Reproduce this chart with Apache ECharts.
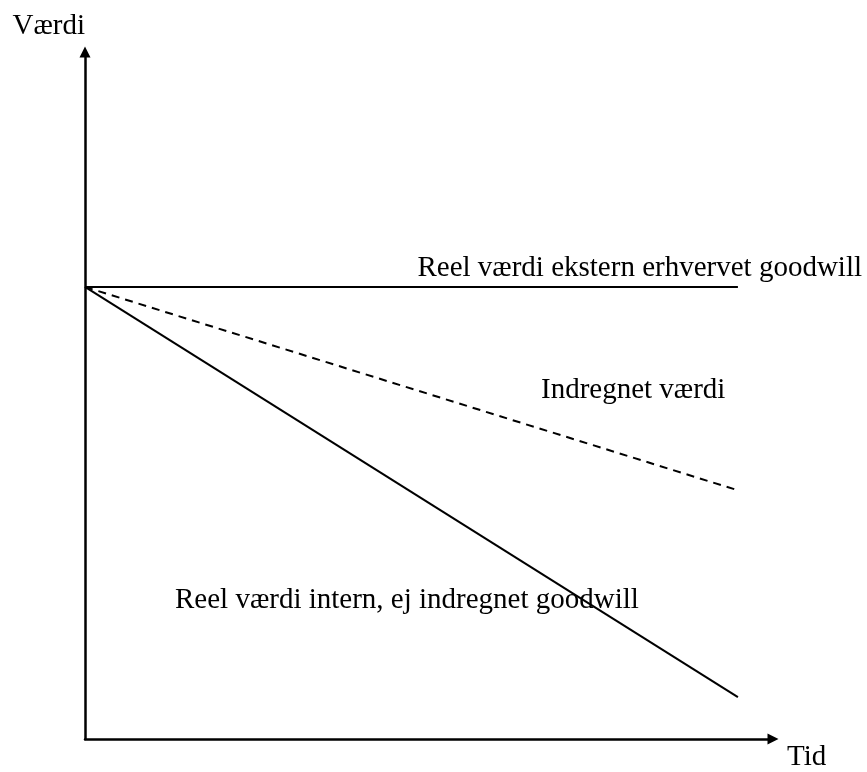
<!DOCTYPE html>
<html>
<head>
<meta charset="utf-8">
<script src="https://cdn.jsdelivr.net/npm/echarts@6/dist/echarts.min.js"></script>
<style>
  html, body { margin: 0; padding: 0; background: #fff; }
  #chart { width: 867px; height: 772px; }
</style>
</head>
<body>
<div id="chart"></div>
<script>
// tid (x) og værdi (y) for de tre linjer
const timePoints = [0, 94.9];
const externalValue = [65.8, 65.8];
const recognisedValue = [65.8, 36.2];
const internalValue = [65.8, 6.1];

const labels = {
  external: 'Reel værdi ekstern erhvervet goodwill',
  recognised: 'Indregnet værdi',
  internal: 'Reel værdi intern, ej indregnet goodwill'
};

const FONT = "'Liberation Serif', 'Times New Roman', serif";
const SIZE = 29;

function pairs(ys) {
  return timePoints.map((t, i) => [t, ys[i]]);
}

function lineSeries(ys, type) {
  return {
    type: 'line',
    data: pairs(ys),
    symbol: 'none',
    silent: true,
    lineStyle: { color: '#000', width: 2, type: type }
  };
}

const axisLine = {
  show: true,
  symbol: ['none', 'triangle'],
  symbolSize: [11, 11],
  lineStyle: { color: '#000', width: 2.5 }
};

const myChart = echarts.init(document.getElementById('chart'));
myChart.setOption({
  animation: false,
  backgroundColor: '#fff',
  grid: { left: 85, top: 52, right: 94, bottom: 32 },
  xAxis: {
    type: 'value', min: 0, max: 100,
    name: 'Tid', nameLocation: 'end', nameGap: 14,
    nameTextStyle: { fontFamily: FONT, fontSize: SIZE, color: '#000', align: 'left', verticalAlign: 'top', padding: [4, 0, 0, 0] },
    axisLine: axisLine,
    axisTick: { show: false }, axisLabel: { show: false }, splitLine: { show: false }
  },
  yAxis: {
    type: 'value', min: 0, max: 100,
    name: 'Værdi', nameLocation: 'end', nameGap: 11,
    nameTextStyle: { fontFamily: FONT, fontSize: SIZE, color: '#000', align: 'right', verticalAlign: 'bottom' },
    axisLine: axisLine,
    axisTick: { show: false }, axisLabel: { show: false }, splitLine: { show: false }
  },
  series: [
    lineSeries(externalValue, 'solid'),
    lineSeries(recognisedValue, [8, 6]),
    lineSeries(internalValue, 'solid')
  ],
  graphic: [
    { type: 'text', x: 862, y: 268, style: { text: labels.external, font: SIZE + 'px ' + FONT, fill: '#000', textAlign: 'right', textVerticalAlign: 'middle' } },
    { type: 'text', x: 541, y: 390, style: { text: labels.recognised, font: SIZE + 'px ' + FONT, fill: '#000', textAlign: 'left', textVerticalAlign: 'middle' } },
    { type: 'text', x: 175, y: 600, style: { text: labels.internal, font: SIZE + 'px ' + FONT, fill: '#000', textAlign: 'left', textVerticalAlign: 'middle' } }
  ]
});
</script>
</body>
</html>
